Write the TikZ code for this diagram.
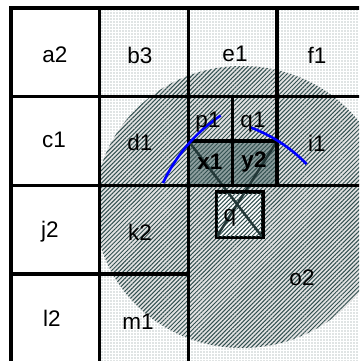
\documentclass[tikz,border=0pt]{standalone}
\usepackage{fontspec}
\setmainfont{Liberation Sans}
\usepackage{xcolor}
\usetikzlibrary{patterns.meta}
\definecolor{pizarra}{RGB}{50,80,80}
\tikzset{
  celda/.style={draw=black,line width=3.4pt},
  puntos/.style={pattern={Dots[distance=3pt,radius=0.7pt]},pattern color=pizarra!65},
  rayas/.style={pattern={Lines[angle=45,distance=3pt,line width=1pt]},pattern color=pizarra},
  etq/.style={font=\fontsize{22.5}{25}\selectfont,inner sep=0pt},
  arco/.style={draw=blue,line width=2.6pt},
  cruz/.style={draw=pizarra!70!black,line width=2.5pt}
}

\begin{document}
\begin{tikzpicture}[x=1pt,y=1pt]
\useasboundingbox (0,0) rectangle (359,361);
\clip (0,0) rectangle (359,361);
\fill[white] (0,0) rectangle (359,361);
% fondo y region circular
\begin{scope}
\clip (99.7,-1.8) rectangle (365.8,353);
\fill[puntos] (99.7,-1.8) rectangle (365.8,353);
\fill[gray!22] (242,154) ellipse (147 and 141);
\fill[rayas] (242,154) ellipse (147 and 141);
\end{scope}
\fill[pizarra!55] (188.4,175.6) rectangle (277.1,220);
\fill[rayas] (188.4,175.6) rectangle (277.1,220);
\node[draw=black,line width=2.5pt,fill=white,minimum width=45,minimum height=44,inner sep=0pt] (qbox) at (239.5,146) {};
\fill[rayas] (217,124) rectangle (262,168);
% cruz
\coordinate (xy1) at (188.4,220);
\coordinate (xy2) at (277.1,220);
\draw[cruz] (xy1) -- (qbox.south east);
\draw[cruz] (xy2) -- (qbox.south west);
\draw[line width=2.5pt] (qbox.south west) rectangle (qbox.north east);
% rejilla
\draw[celda] (11,-1.8) rectangle (365.8,353);
\draw[celda] (99.7,-1.8) -- (99.7,353);
\draw[celda] (188.4,-1.8) -- (188.4,353);
\draw[celda] (277.1,175.6) -- (277.1,353);
\draw[celda] (11,264.3) -- (365.8,264.3);
\draw[celda] (11,175.6) -- (365.8,175.6);
\draw[celda] (11,86.9) -- (188.4,86.9);
\draw[celda] (232.75,175.6) -- (232.75,264.3);
\draw[celda] (188.4,220) -- (277.1,220);
% arcos
\draw[arco] (163,178) arc[start angle=155,end angle=124,radius=166];
\draw[arco] (249.6,233.9) arc[start angle=70,end angle=44,radius=151];
% etiquetas
\node[etq] (a2) at (55,306) {a2};
\node[etq] (b3) at (140,306) {b3};
\node[etq] (e1) at (235,307) {e1};
\node[etq] (f1) at (317,306) {f1};
\node[etq] (c1) at (54,221) {c1};
\node[etq] (d1) at (140,219) {d1};
\node[etq] (p1) at (208,239) {p1};
\node[etq] (q1) at (253,239) {q1};
\node[etq,font=\fontsize{22.5}{25}\selectfont\bfseries] (x1) at (210,199) {x1};
\node[etq,font=\fontsize{22.5}{25}\selectfont\bfseries] (y2) at (254,199) {y2};
\node[etq] (i1) at (317,218) {i1};
\node[etq] (j2) at (50,129) {j2};
\node[etq] (k2) at (140,129) {k2};
\node[etq] (l2) at (52,43) {l2};
\node[etq] (m1) at (138,39) {m1};
\node[etq] (o2) at (302,83) {o2};
\node[etq] (q) at (230,143) {q};
\end{tikzpicture}
\end{document}
